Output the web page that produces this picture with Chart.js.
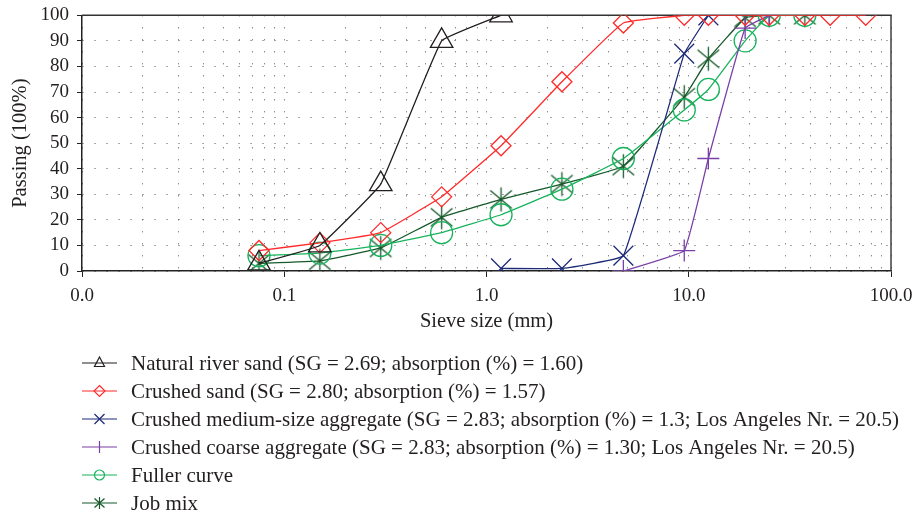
<!DOCTYPE html>
<html>
<head>
<meta charset="utf-8">
<script src="https://cdn.jsdelivr.net/npm/chart.js@4.4.1/dist/chart.umd.min.js"></script>
<style>
html, body { margin: 0; padding: 0; background: #fff; }
#wrap { width: 921px; height: 517px; }
</style>
</head>
<body>
<div id="wrap"><canvas id="grading" width="921" height="517"></canvas></div>
<script>
// sieve openings (mm)
var sieves = [0.075, 0.15, 0.3, 0.6, 1.18, 2.36, 4.75, 9.5, 12.5, 19, 25, 37.5, 50, 75];

// passing (%) for each material, starting at the given sieve index
var riverSandStart = 0;
var riverSand = [3, 10, 34, 90, 100];
var crushedSandStart = 0;
var crushedSand = [8, 11, 15, 29, 49, 74, 97, 100, 100, 100, 100, 100, 100, 100];
var mediumAggStart = 4;
var mediumAgg = [1, 1, 6, 85, 100];
var coarseAggStart = 6;
var coarseAgg = [0, 8, 44, 95, 100];
var fullerStart = 0;
var fuller = [6, 7, 10, 15, 22, 32, 44, 63, 71, 90, 100, 100];
var jobMixStart = 0;
var jobMix = [3, 4, 9, 21, 28, 34, 41, 68, 83, 99, 100, 100];

var seriesNames = [
    "Natural river sand (SG = 2.69; absorption (%) = 1.60)",
    "Crushed sand (SG = 2.80; absorption (%) = 1.57)",
    "Crushed medium-size aggregate (SG = 2.83; absorption (%) = 1.3; Los Angeles Nr. = 20.5)",
    "Crushed coarse aggregate (SG = 2.83; absorption (%) = 1.30; Los Angeles Nr. = 20.5)",
    "Fuller curve",
    "Job mix"
];
var seriesColors = ["#231f20", "#ff2b2b", "#1d2a78", "#7a3fa8", "#17b35c", "#17592a"];
var markerKinds = ["triangle", "diamond", "x", "plus", "circle", "asterisk"];

var textColor = "#231f20";
var serif = '"Liberation Serif", "Times New Roman", serif';

function pairs(start, values) {
    return values.map(function (v, i) {
        return { x: sieves[start + i], y: v };
    });
}

// asterisk marker (x with a vertical bar), not built into Chart.js
function asteriskCanvas(color, half, lw) {
    var c = document.createElement("canvas");
    var s = Math.ceil(half * 2 + lw * 2);
    c.width = s; c.height = s;
    var g = c.getContext("2d");
    var m = s / 2;
    g.strokeStyle = color;
    g.lineWidth = lw;
    g.beginPath();
    g.moveTo(m - half * 0.9, m - half * 0.75); g.lineTo(m + half * 0.9, m + half * 0.75);
    g.moveTo(m - half * 0.9, m + half * 0.75); g.lineTo(m + half * 0.9, m - half * 0.75);
    g.moveTo(m, m - half); g.lineTo(m, m + half);
    g.stroke();
    return c;
}

var pointStyles = ["triangle", "rectRot", "crossRot", "cross", "circle", asteriskCanvas(seriesColors[5], 12, 1.3)];
var pointRadii = [13, 10, 14, 11, 11, 12];

var seriesData = [
    pairs(riverSandStart, riverSand),
    pairs(crushedSandStart, crushedSand),
    pairs(mediumAggStart, mediumAgg),
    pairs(coarseAggStart, coarseAgg),
    pairs(fullerStart, fuller),
    pairs(jobMixStart, jobMix)
];

var datasets = seriesData.map(function (d, i) {
    return {
        label: seriesNames[i],
        data: d,
        borderColor: seriesColors[i],
        backgroundColor: "rgba(0,0,0,0)",
        borderWidth: 1.3,
        tension: 0.08,
        pointStyle: pointStyles[i],
        pointRadius: pointRadii[i],
        pointHoverRadius: pointRadii[i],
        pointBorderWidth: 1.3,
        pointBorderColor: seriesColors[i],
        pointBackgroundColor: "rgba(0,0,0,0)",
        fill: false
    };
});

// ticks at 1..9 x 10^n between 0.01 and 100
var xTickValues = [];
[0.01, 0.1, 1, 10].forEach(function (dec) {
    for (var k = 1; k < 10; k++) xTickValues.push(+(k * dec).toPrecision(3));
});
xTickValues.push(100);

function isDecade(v) {
    var l = Math.log10(v);
    return Math.abs(l - Math.round(l)) < 1e-9;
}

var frame = {
    id: "frame",
    beforeDatasetsDraw: function (chart) {
        var a = chart.chartArea, c = chart.ctx;
        c.save();
        c.strokeStyle = "#333";
        c.lineWidth = 1.4;
        c.beginPath();
        c.moveTo(a.left, a.top);
        c.lineTo(a.right, a.top);
        c.lineTo(a.right, a.bottom);
        c.stroke();
        c.restore();
    }
};

function legendMarker(c, kind, x, y, color) {
    c.strokeStyle = color;
    c.lineWidth = 1.2;
    c.beginPath();
    if (kind === "triangle") {
        c.moveTo(x, y - 6); c.lineTo(x + 5, y + 3.5); c.lineTo(x - 5, y + 3.5); c.closePath();
    } else if (kind === "diamond") {
        c.moveTo(x, y - 5.5); c.lineTo(x + 5.5, y); c.lineTo(x, y + 5.5); c.lineTo(x - 5.5, y); c.closePath();
    } else if (kind === "x") {
        c.moveTo(x - 5, y - 5); c.lineTo(x + 5, y + 5); c.moveTo(x - 5, y + 5); c.lineTo(x + 5, y - 5);
    } else if (kind === "plus") {
        c.moveTo(x, y - 6); c.lineTo(x, y + 6);
    } else if (kind === "circle") {
        c.arc(x, y, 5, 0, Math.PI * 2);
    } else if (kind === "asterisk") {
        c.moveTo(x - 5, y - 4.5); c.lineTo(x + 5, y + 4.5); c.moveTo(x - 5, y + 4.5); c.lineTo(x + 5, y - 4.5);
        c.moveTo(x, y - 6); c.lineTo(x, y + 6);
    }
    c.stroke();
}

var bottomLegend = {
    id: "bottomLegend",
    afterDraw: function (chart) {
        var c = chart.ctx;
        c.save();
        c.font = "21px " + serif;
        c.textBaseline = "middle";
        c.fillStyle = textColor;
        seriesNames.forEach(function (name, i) {
            var y = 363 + i * 28;
            c.strokeStyle = seriesColors[i];
            c.lineWidth = 1.2;
            c.beginPath();
            c.moveTo(82, y);
            c.lineTo(117, y);
            c.stroke();
            legendMarker(c, markerKinds[i], 99.5, y, seriesColors[i]);
            c.fillStyle = textColor;
            c.fillText(name, 131, y + 1);
        });
        c.restore();
    }
};

Chart.defaults.font.family = serif;
Chart.defaults.color = textColor;

var ctx = document.getElementById("grading");
var gradingChart = new Chart(ctx, {
    type: "line",
    data: { datasets: datasets },
    plugins: [frame, bottomLegend],
    options: {
        responsive: false,
        animation: false,
        layout: { padding: { left: 0, top: 15, right: 30, bottom: 183 } },
        plugins: { legend: { display: false }, tooltip: { enabled: false } },
        scales: {
            x: {
                type: "logarithmic",
                min: 0.01,
                max: 100,
                afterBuildTicks: function (scale) {
                    scale.ticks = xTickValues.map(function (v) {
                        return { value: v, major: isDecade(v) };
                    });
                },
                afterFit: function (scale) { scale.height = 63; },
                ticks: {
                    autoSkip: false,
                    maxRotation: 0,
                    padding: 8,
                    font: { size: 19 },
                    color: textColor,
                    callback: function (value) {
                        return isDecade(value) ? Number(value).toFixed(1) : "";
                    }
                },
                grid: {
                    color: "#555",
                    lineWidth: 1,
                    tickLength: 6,
                    tickColor: function (c) {
                        return c.tick && c.tick.major ? "#222" : "rgba(0,0,0,0)";
                    }
                },
                border: { display: true, color: "#222", width: 1.5, dash: [1, 11] },
                title: {
                    display: true,
                    text: "Sieve size (mm)",
                    font: { size: 20.5 },
                    color: textColor,
                    padding: { top: 0, bottom: 0 }
                }
            },
            y: {
                min: 0,
                max: 100,
                afterFit: function (scale) {
                    scale.width = 82;
                    scale.paddingTop = 0;
                    scale.paddingBottom = 0;
                },
                ticks: {
                    stepSize: 10,
                    autoSkip: false,
                    padding: 8,
                    font: { size: 19 },
                    color: textColor
                },
                grid: {
                    color: "#555",
                    lineWidth: 1,
                    tickLength: 5,
                    tickColor: "#222"
                },
                border: { display: true, color: "#222", width: 1.5, dash: [1, 11] },
                title: {
                    display: true,
                    text: "Passing (100%)",
                    font: { size: 20.5 },
                    color: textColor,
                    padding: { top: 8, bottom: 0 }
                }
            }
        }
    }
});
</script>
</body>
</html>
